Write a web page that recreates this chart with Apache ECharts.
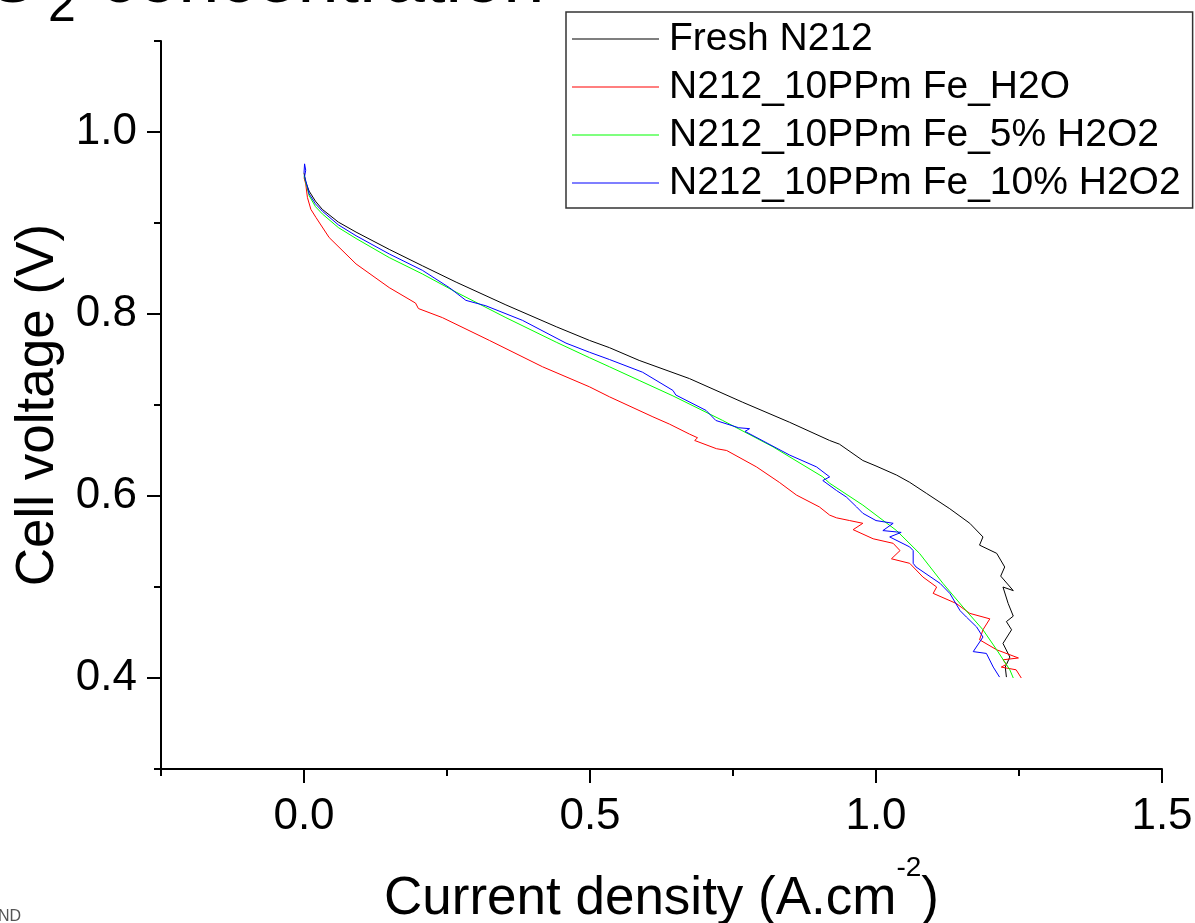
<!DOCTYPE html>
<html>
<head>
<meta charset="utf-8">
<script src="https://cdn.jsdelivr.net/npm/echarts@6/dist/echarts.min.js"></script>
<style>
html, body { margin: 0; padding: 0; background: #fff; }
#main { width: 1195px; height: 923px; }
</style>
</head>
<body>
<div id="main"></div>
<script>
var dom = document.getElementById('main');
var myChart = echarts.init(dom);
var FONT = '"Liberation Sans", Arial, sans-serif';

// series names
var names = ['Fresh N212', 'N212_10PPm Fe_H2O', 'N212_10PPm Fe_5% H2O2', 'N212_10PPm Fe_10% H2O2'];
var colors = ['#000000', '#ff0000', '#00ff00', '#0000ff'];

// [current density, cell voltage]
var fresh = [
    [0, 0.955], [0.003, 0.945], [0.009, 0.935], [0.02, 0.924], [0.032, 0.915], [0.06, 0.901],
    [0.091, 0.890], [0.149, 0.871], [0.207, 0.853], [0.266, 0.835], [0.353, 0.810], [0.441, 0.786],
    [0.499, 0.771], [0.534, 0.763], [0.586, 0.749], [0.674, 0.729], [0.767, 0.703], [0.849, 0.681],
    [0.919, 0.661], [0.936, 0.657], [0.977, 0.639], [1.0, 0.633], [1.036, 0.623], [1.059, 0.615],
    [1.088, 0.603], [1.129, 0.586], [1.164, 0.570], [1.187, 0.555], [1.181, 0.546], [1.211, 0.537],
    [1.225, 0.522], [1.218, 0.512], [1.240, 0.496], [1.222, 0.500], [1.231, 0.482], [1.240, 0.468],
    [1.228, 0.462], [1.237, 0.453], [1.222, 0.438], [1.234, 0.423], [1.226, 0.412], [1.228, 0.401]
];
var h2o = [
    [0, 0.95], [0.003, 0.943], [0.006, 0.928], [0.012, 0.915], [0.021, 0.906], [0.044, 0.884],
    [0.091, 0.855], [0.149, 0.829], [0.195, 0.812], [0.2, 0.806], [0.242, 0.796], [0.324, 0.771],
    [0.417, 0.742], [0.499, 0.720], [0.534, 0.709], [0.610, 0.687], [0.639, 0.679], [0.674, 0.668],
    [0.688, 0.664], [0.683, 0.661], [0.721, 0.652], [0.739, 0.650], [0.791, 0.632], [0.831, 0.615],
    [0.861, 0.601], [0.901, 0.588], [0.919, 0.579], [0.931, 0.576], [0.954, 0.573], [0.977, 0.570],
    [0.960, 0.563], [0.995, 0.553], [1.03, 0.548], [1.042, 0.540], [1.027, 0.531], [1.059, 0.526],
    [1.082, 0.511], [1.106, 0.500], [1.100, 0.493], [1.140, 0.482], [1.164, 0.471], [1.199, 0.465],
    [1.187, 0.453], [1.181, 0.442], [1.211, 0.431], [1.249, 0.422], [1.222, 0.420], [1.228, 0.415],
    [1.219, 0.412], [1.245, 0.409], [1.254, 0.400]
];
var h2o2_5 = [
    [0, 0.952], [0.005, 0.94], [0.009, 0.93], [0.02, 0.918], [0.032, 0.910], [0.06, 0.895],
    [0.091, 0.883], [0.149, 0.862], [0.207, 0.844], [0.266, 0.824], [0.353, 0.796], [0.441, 0.769],
    [0.499, 0.752], [0.534, 0.742], [0.586, 0.727], [0.645, 0.710], [0.732, 0.683], [0.820, 0.654],
    [0.907, 0.621], [0.919, 0.614], [0.977, 0.590], [1.036, 0.562], [1.076, 0.537], [1.117, 0.504],
    [1.152, 0.478], [1.187, 0.453], [1.211, 0.431], [1.234, 0.409], [1.240, 0.400]
];
var h2o2_10 = [
    [0, 0.955], [0.001, 0.965], [0.003, 0.958], [0.001, 0.951], [0.005, 0.942], [0.009, 0.932],
    [0.02, 0.921], [0.032, 0.913], [0.06, 0.898], [0.091, 0.886], [0.149, 0.866], [0.207, 0.848],
    [0.254, 0.829], [0.283, 0.815], [0.318, 0.809], [0.382, 0.793], [0.458, 0.768], [0.499, 0.758],
    [0.534, 0.750], [0.592, 0.736], [0.645, 0.716], [0.650, 0.711], [0.703, 0.694], [0.720, 0.683],
    [0.760, 0.675], [0.779, 0.674], [0.771, 0.671], [0.849, 0.645], [0.896, 0.632], [0.919, 0.621],
    [0.907, 0.617], [0.931, 0.606], [0.948, 0.599], [0.966, 0.588], [0.977, 0.581], [1.0, 0.573],
    [1.03, 0.570], [1.012, 0.562], [1.044, 0.560], [1.024, 0.555], [1.059, 0.544], [1.065, 0.540],
    [1.065, 0.526], [1.07, 0.522], [1.112, 0.504], [1.129, 0.493], [1.147, 0.474], [1.158, 0.467],
    [1.176, 0.456], [1.187, 0.445], [1.170, 0.429], [1.193, 0.427], [1.205, 0.412], [1.216, 0.401]
];

// tick labels
var xMajor = [0, 0.5, 1.0, 1.5];
var yMajor = [0.4, 0.6, 0.8, 1.0];

var allData = [fresh, h2o, h2o2_5, h2o2_10];

var axisLine = { show: true, onZero: false, lineStyle: { color: '#000', width: 2 } };
var gridBox = { left: 161, right: 33, top: 41, bottom: 154, outerBoundsMode: 'none', containLabel: false };

option = {
    animation: false,
    backgroundColor: '#fff',
    textStyle: { fontFamily: FONT },
    grid: [
        Object.assign({}, gridBox),
        Object.assign({}, gridBox)
    ],
    xAxis: [{
        type: 'value', gridIndex: 0, min: -0.25, max: 1.5, interval: 0.25,
        axisLine: axisLine,
        axisTick: { show: true, length: 7, lineStyle: { color: '#000', width: 2 } },
        axisLabel: { show: false },
        splitLine: { show: false }
    }, {
        type: 'value', gridIndex: 1, min: -0.25, max: 1.5, interval: 0.25,
        axisLine: { show: false, onZero: false },
        axisTick: { show: true, length: 14, customValues: xMajor, lineStyle: { color: '#000', width: 2 } },
        axisLabel: {
            customValues: xMajor, fontSize: 44, margin: 26, color: '#000', fontFamily: FONT,
            formatter: function (v) { return v.toFixed(1); }
        },
        splitLine: { show: false },
        name: '{n|Current density (A.cm}{s|-2}{n|)}',
        nameLocation: 'middle',
        nameGap: 85,
        nameTextStyle: {
            fontFamily: FONT, color: '#000',
            rich: {
                n: { fontSize: 53, fontFamily: FONT, color: '#000', verticalAlign: 'middle' },
                s: { fontSize: 28, fontFamily: FONT, color: '#000', verticalAlign: 'middle', padding: [0, 0, 62, 0] }
            }
        }
    }],
    yAxis: [{
        type: 'value', gridIndex: 0, min: 0.3, max: 1.1, interval: 0.1,
        axisLine: axisLine,
        axisTick: { show: true, length: 7, lineStyle: { color: '#000', width: 2 } },
        axisLabel: { show: false },
        splitLine: { show: false }
    }, {
        type: 'value', gridIndex: 1, min: 0.3, max: 1.1, interval: 0.1,
        axisLine: { show: false, onZero: false },
        axisTick: { show: true, length: 14, customValues: yMajor, lineStyle: { color: '#000', width: 2 } },
        axisLabel: {
            customValues: yMajor, fontSize: 44, margin: 24, color: '#000', fontFamily: FONT,
            formatter: function (v) { return v.toFixed(1); }
        },
        splitLine: { show: false },
        name: 'Cell voltage (V)',
        nameLocation: 'middle',
        nameGap: 92,
        nameTextStyle: { fontSize: 53, fontFamily: FONT, color: '#000' }
    }],
    legend: {
        orient: 'vertical',
        left: 566,
        top: 12,
        padding: [7, 12, 5, 6],
        backgroundColor: '#fff',
        borderColor: '#333',
        borderWidth: 1.5,
        icon: 'rect',
        itemWidth: 87,
        itemHeight: 1.2,
        itemGap: 8,
        textStyle: { fontSize: 39, lineHeight: 40, color: '#000', fontFamily: FONT, padding: [0, 0, 0, 5] },
        data: names
    },
    graphic: [
        { type: 'text', left: -16, top: -55, style: { text: 'O', font: '74px ' + FONT, fill: '#000' } },
        { type: 'text', left: 48, top: -18, style: { text: '2', font: '50px ' + FONT, fill: '#000' } },
        { type: 'text', left: 100, top: -55, style: { text: 'concentration', font: '74px ' + FONT, fill: '#000' } },
        { type: 'text', left: -2, top: 909, style: { text: 'ND', font: '16px ' + FONT, fill: '#555' } }
    ],
    series: allData.map(function (d, i) {
        return {
            name: names[i],
            type: 'line',
            xAxisIndex: 0,
            yAxisIndex: 0,
            data: d,
            symbol: 'none',
            lineStyle: { color: colors[i], width: 1 },
            itemStyle: { color: colors[i] }
        };
    })
};

if (option && typeof option === 'object') {
    myChart.setOption(option, true);
}
</script>
</body>
</html>
